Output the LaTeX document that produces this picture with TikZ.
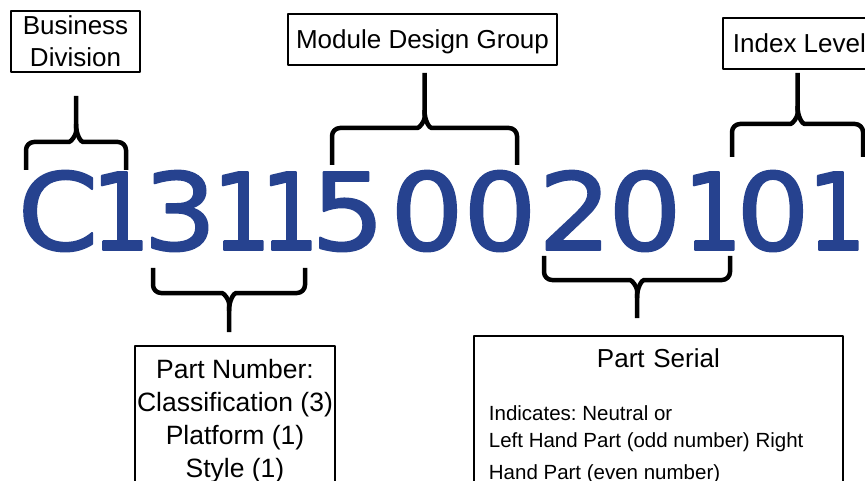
\documentclass[tikz,border=0pt]{standalone}
\usepackage{fontspec}
\setmainfont{Liberation Sans}
\newfontfamily\digitfont[FakeBold=1.8, FakeStretch=1.08]{DejaVu Sans}
\newfontfamily\onefont[FakeBold=1.8, FakeStretch=0.86]{DejaVu Sans}
\definecolor{codeblue}{RGB}{38,66,143}
\tikzset{
	codebox/.style={draw, line width=1.8pt, inner sep=0pt, align=center, font=\fontsize{26}{32}\selectfont},
	digit/.style={anchor=base, inner sep=0pt, text=codeblue, font=\digitfont\fontsize{107}{107}\selectfont},
	narrow/.style={digit, font=\onefont\fontsize{107}{107}\selectfont},
	codebrace/.style={line width=4.5pt, rounded corners=8pt},
}
\begin{document}
\begin{tikzpicture}[x=1pt, y=-1pt, line join=round]
	\useasboundingbox (0,0) rectangle (865,481);
	% the code, one character at a time
	\foreach \ch/\cx/\st [count=\i] in {C/58/digit, 1/121/narrow, 3/180/digit, 1/242/narrow, 1/290/narrow, 5/348/digit, 0/427/digit,
		0/500/digit, 2/575/digit, 0/645/digit, 1/713/narrow, 0/773/digit, 1/837/narrow}
		\node[\st] (d\i) at (\cx,250) {\ch};
	% boxes
	\node[codebox, minimum width=129pt, minimum height=61pt] (bd) at (75.5,41.5) {Business\\Division};
	\node[codebox, minimum width=269pt, minimum height=51pt, text depth=0pt] (mdg) at (422.5,39.5) {Module Design Group};
	\node[codebox, minimum width=153pt, minimum height=51pt, anchor=west] (idx) at (722,43.5) {Index Level};
	\node[codebox, anchor=north, minimum width=200pt, inner ysep=13pt, font=\fontsize{26.5}{33}\selectfont] (pn) at (235,345) {Part Number:\\Classification (3)\\Platform (1)\\Style (1)};
	\node[codebox, anchor=north west, text width=339pt, align=left, inner xsep=15pt, inner ysep=13pt, minimum height=160pt] (ps) at (473,335)
		{{\centering Part Serial\par}\fontsize{20.5}{27}\selectfont\spaceskip=0pt\xspaceskip=0pt\parskip=0pt\frenchspacing
		\vspace{26pt}Indicates: Neutral or\par Left Hand Part (odd number) Right\par Hand Part (even number)};
	% braces: left x, right x, tip y, bar y, side, box, anchor, gap to box
	\foreach \xl/\xr/\yt/\yb/\sgn/\tgt/\an/\gap in {26/126/170/142/1/bd/south/23, 332/517/165/128/1/mdg/south/7, 732/863/157/124/1/idx/south/3,
		153/305/268/293/-1/pn/north/13, 544/730/256/280/-1/ps/north/17}{
		\pgfmathsetmacro\xm{(\xl+\xr)/2}
		\pgfmathsetmacro\yc{\yb-18*\sgn}
		\pgfmathsetmacro\yk{\yb-7*\sgn}
		\coordinate (cusp) at (\xm,\yc);
		\draw[codebrace, shorten >=\gap pt] (\xl,\yt) |- (\xm-15,\yb) .. controls (\xm-5,\yb) and (\xm,\yk) .. (cusp) -- (cusp |- \tgt.\an);
		\draw[codebrace] (\xr,\yt) |- (\xm+15,\yb) .. controls (\xm+5,\yb) and (\xm,\yk) .. (cusp);
	}
\end{tikzpicture}
\end{document}
